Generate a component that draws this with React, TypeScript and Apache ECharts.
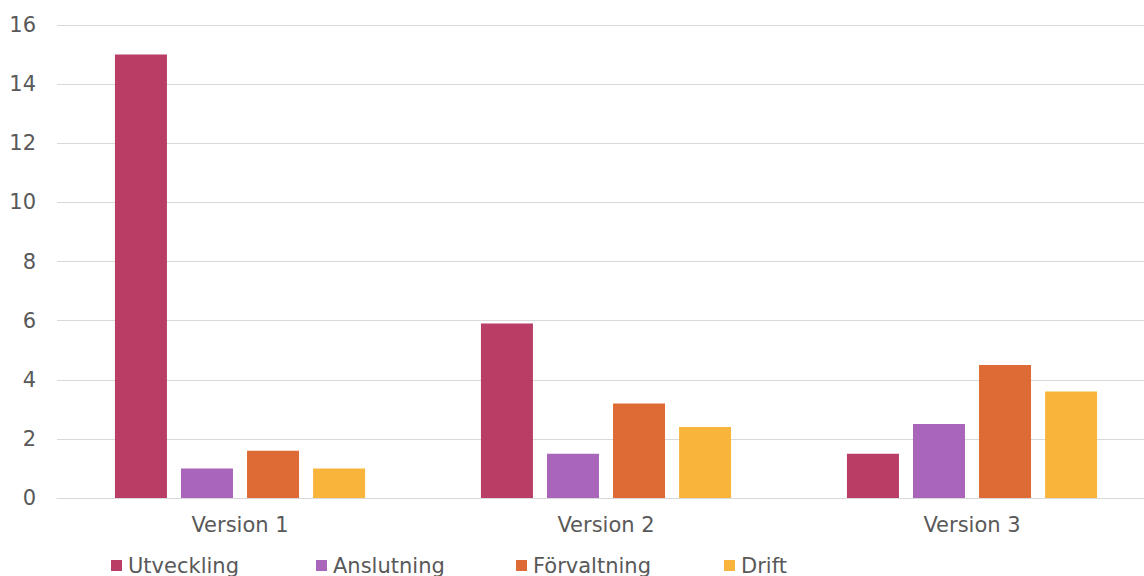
import React, { useEffect, useRef } from "react";
import * as echarts from "echarts";

const categories = ["Version 1", "Version 2", "Version 3"];
const seriesNames = ["Utveckling", "Anslutning", "Förvaltning", "Drift"];
const utveckling = [15, 5.9, 1.5];
const anslutning = [1, 1.5, 2.5];
const forvaltning = [1.6, 3.2, 4.5];
const drift = [1, 2.4, 3.6];
const colors = ["#BA3D66", "#A965BA", "#DE6B35", "#F9B53B"];
const legendLefts = [111, 316, 516, 724];

export default function App() {
  const ref = useRef<HTMLDivElement>(null);
  useEffect(() => {
    if (!ref.current) return;
    const chart = echarts.init(ref.current, null, { renderer: "svg" });
    const values = [utveckling, anslutning, forvaltning, drift];
    chart.setOption({
      animation: false,
      color: colors,
      textStyle: { fontFamily: "DejaVu Sans" },
      grid: { left: 57, right: 0, top: 25, bottom: 78 },
      legend: seriesNames.map((name, i) => ({
        left: legendLefts[i],
        top: 555,
        padding: 0,
        itemWidth: 11,
        itemHeight: 11,
        itemGap: 0,
        icon: "rect",
        textStyle: { fontSize: 21, color: "#595959", padding: [0, 0, 0, 1] },
        data: [name],
      })),
      xAxis: {
        type: "category",
        data: categories,
        axisTick: { show: false },
        axisLine: { lineStyle: { color: "#D9D9D9", width: 1 } },
        axisLabel: { fontSize: 21, color: "#595959", margin: 16 },
      },
      yAxis: {
        type: "value",
        min: 0,
        max: 16,
        interval: 2,
        axisLabel: { fontSize: 21, color: "#595959", margin: 21 },
        splitLine: { lineStyle: { color: "#D9D9D9", width: 1 } },
      },
      series: seriesNames.map((name, i) => ({
        name,
        type: "bar",
        data: values[i],
        barWidth: 52,
        barGap: "27%",
        itemStyle: { color: colors[i] },
      })),
    });
    return () => chart.dispose();
  }, []);
  return (
    <div style={{ position: "absolute", left: 0, top: 0, width: 1144, height: 576, overflow: "hidden", background: "#fff" }}>
      <div ref={ref} style={{ width: 1155, height: 576 }} />
    </div>
  );
}
